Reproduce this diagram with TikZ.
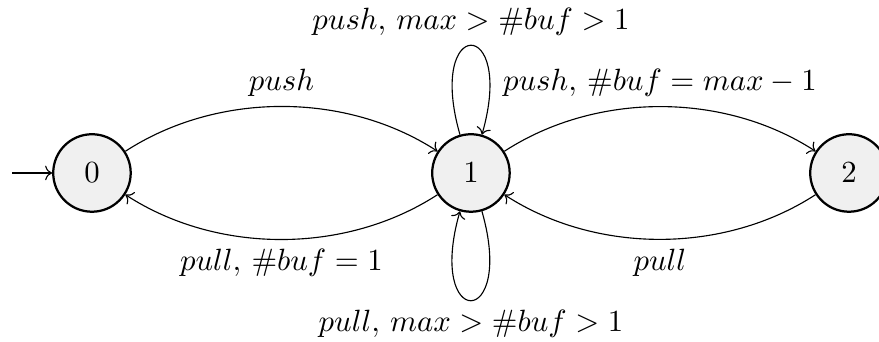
\documentclass[tikz,border=0pt]{standalone}
\usepackage{amsmath,amssymb}
\usepackage{tikz}
\usetikzlibrary{arrows.meta,positioning}
\tikzset{
  st/.style  ={draw,circle,thick,fill=black!6,minimum size=9.7mm,inner sep=0pt},
  ar/.style  ={->},
  bl/.style  ={bend left=33,looseness=0.9},
  lpup/.style={out=106,in=74,min distance=15.5mm,looseness=8},
  lpdn/.style={out=-74,in=-106,min distance=15.5mm,looseness=8},
}
\begin{document}
\begin{tikzpicture}[font=\fontsize{10.7}{13}\selectfont]
  \useasboundingbox (-1.151,-2.103) rectangle (9.850,2.165);
  \node[st] (s0) at (0,0){$0$};
  \node[st] (s1) at (4.743,0){$1$};
  \node[st] (s2) at (9.474,0){$2$};
  \coordinate (init) at (-1.0,0);
  \draw[ar] (init) -- (s0);
  \draw[ar] (s0) to[bl] node[above]{$push$} (s1);
  \draw[ar] (s1) to[bl] node[below]{$pull,\,\#buf = 1$} (s0);
  \draw[ar] (s1) to[bl] node[above]{$push,\,\#buf = max - 1$} (s2);
  \draw[ar] (s2) to[bl] node[below]{$pull$} (s1);
  \draw[ar] (s1) to[lpup] node[above]{$push,\,max > \#buf > 1$} (s1);
  \draw[ar] (s1) to[lpdn] node[below]{$pull,\,max > \#buf > 1$} (s1);
\end{tikzpicture}
\end{document}
